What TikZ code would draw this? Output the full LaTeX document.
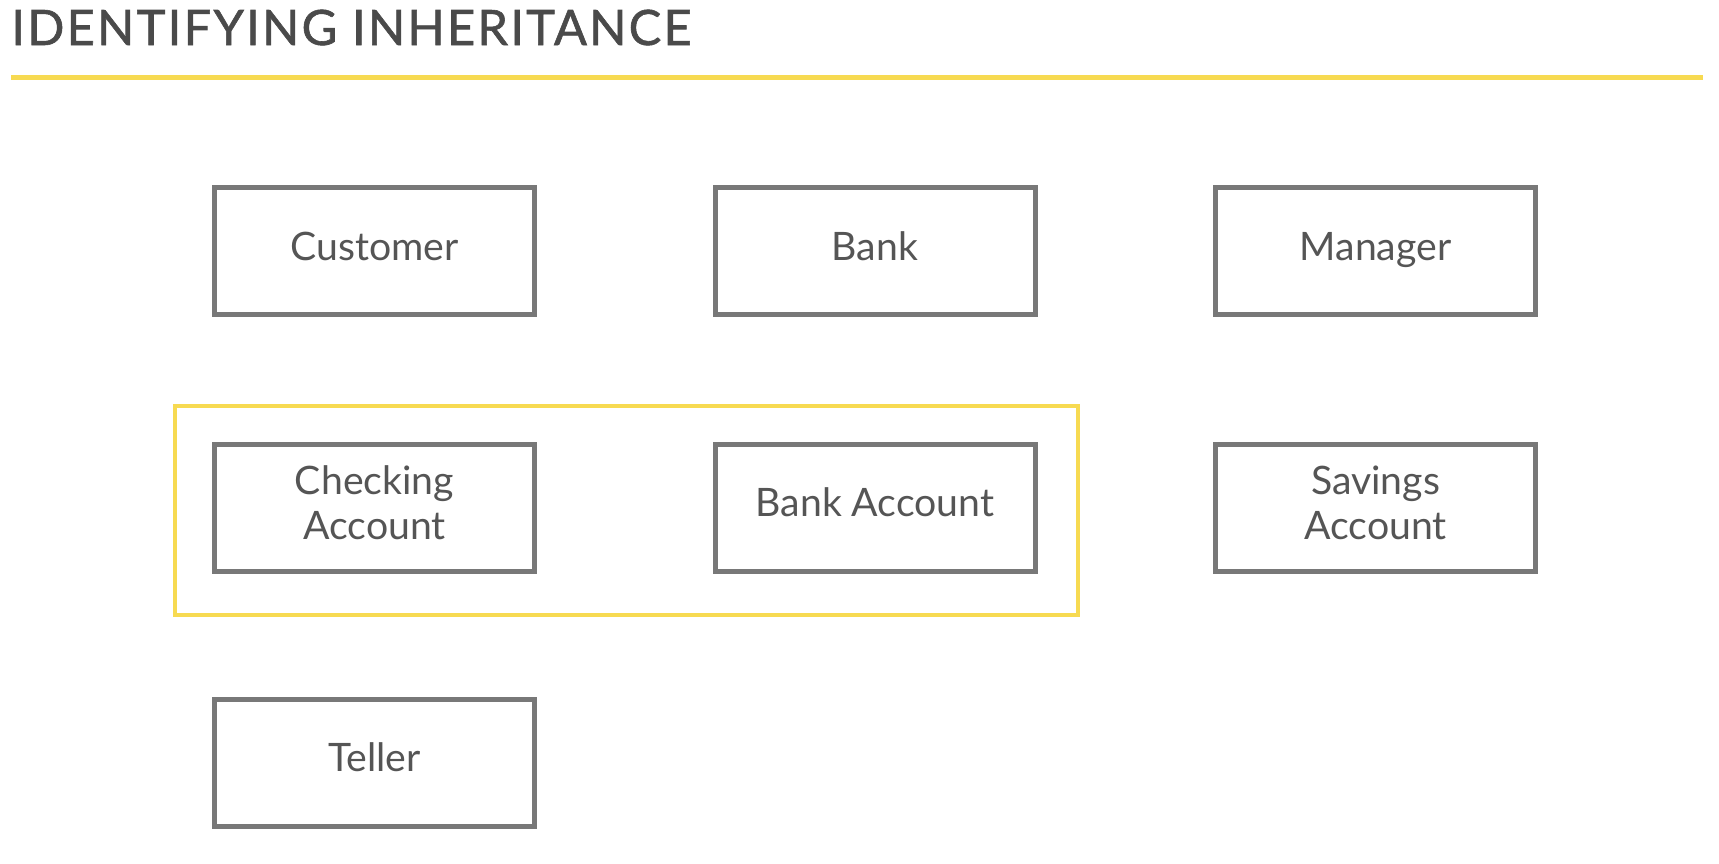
\documentclass[tikz,border=0pt]{standalone}
\usepackage{fontspec}
\setmainfont{Lato}
\newfontfamily\titlefont[FakeBold=1.2, LetterSpace=4.6]{Lato}

\newlength{\du}
\setlength{\du}{0.5pt}

\definecolor{boxgray}{rgb}{0.470588, 0.470588, 0.470588}
\definecolor{textgray}{rgb}{0.333333, 0.333333, 0.333333}
\definecolor{titlegray}{rgb}{0.290196, 0.290196, 0.290196}
\definecolor{accentyellow}{rgb}{0.968627, 0.854902, 0.317647}

\tikzset{
  classbox/.style={draw=boxgray, line width=5\du, fill=white,
    minimum width=320\du, minimum height=127\du, inner sep=0pt,
    text height=27\du, text depth=9\du,
    text=textgray, align=center, font=\fontsize{19.6}{22.5}\selectfont},
  twolines/.style={text height=73\du},
  groupframe/.style={draw=accentyellow, line width=3.5\du,
    minimum width=903\du, minimum height=209\du, inner sep=0pt},
  accentline/.style={draw=accentyellow, line width=5\du},
  titletext/.style={text=titlegray, inner sep=0pt, anchor=base west,
    font=\titlefont\fontsize{24.4}{28}\selectfont},
}

\begin{document}
\begin{tikzpicture}[x=1\du,y=-1\du]
\useasboundingbox (0,0) rectangle (1719,863);
% title
\node[titletext] (title) at (11,45) {IDENTIFYING INHERITANCE};
\coordinate (rulestart) at (11,77.5);
\coordinate (ruleend) at (1703,77.5);
\draw[accentline] (rulestart)--(ruleend);
% grouped candidates
\node[groupframe] (group) at (626.5,510.5) {};
% classes
\node[classbox] (customer) at (374.5,251) {Customer};
\node[classbox] (bank) at (875,251) {Bank};
\node[classbox] (manager) at (1375.5,251) {Manager};
\node[classbox,twolines] (checking) at (374.5,507.5) {Checking\\Account};
\node[classbox] (bankaccount) at (875,507.5) {Bank Account};
\node[classbox,twolines] (savings) at (1375.5,507.5) {Savings\\Account};
\node[classbox] (teller) at (374.5,762.5) {Teller};
\end{tikzpicture}
\end{document}
